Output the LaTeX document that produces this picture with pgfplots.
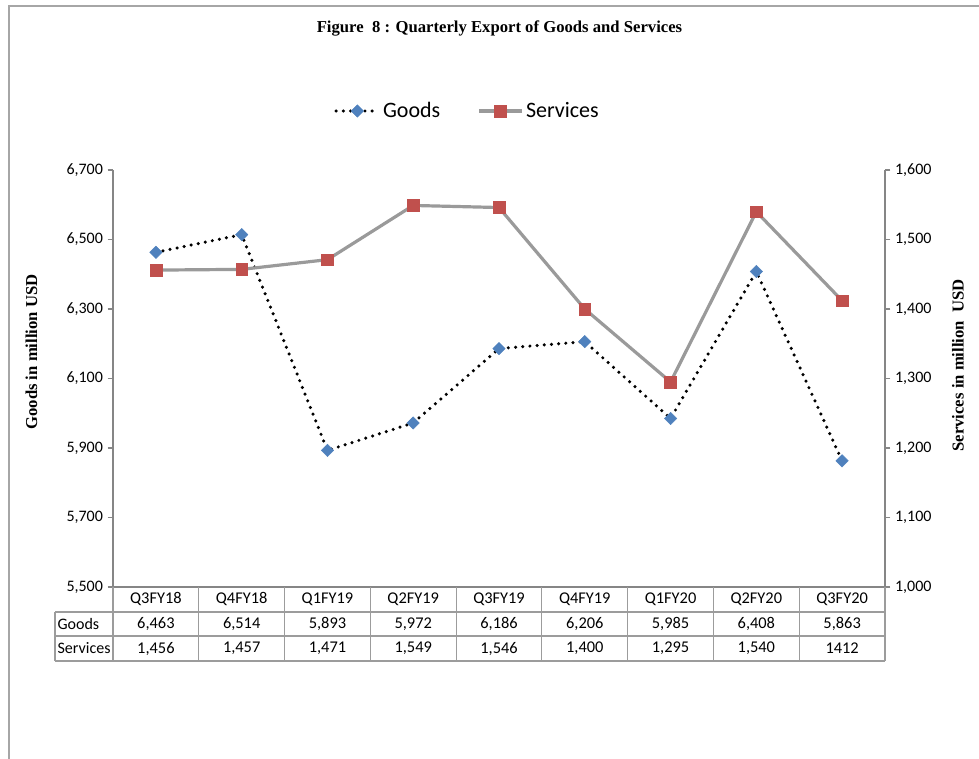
\documentclass[border=0pt]{standalone}
\usepackage{fontspec}
\setmainfont{Carlito}
\newfontfamily\timesfont{Liberation Serif}
\usepackage{pgfplots}
\pgfplotsset{compat=1.18}
\definecolor{goodsblue}{HTML}{4F81BD}
\definecolor{servred}{HTML}{C0504D}
\definecolor{axgray}{HTML}{868686}
\definecolor{framegray}{HTML}{A6A6A6}
\definecolor{servline}{HTML}{9A9A9A}
\definecolor{tabgray}{HTML}{9C9C9C}
\tikzset{
  goodsstyle/.style={black, line width=2.6pt, dash pattern=on 0pt off 5.4pt, line cap=round,
    mark=square*, mark size=3.3pt, mark options={rotate=45, solid, fill=goodsblue, draw=goodsblue, line width=0.3pt}},
  servstyle/.style={servline, line width=2.4pt,
    mark=square*, mark size=4.4pt, mark options={solid, fill=servred, draw=servred, line width=0.3pt}},
}
\pgfplotsset{
  myaxis/.style={
    at={(84.75pt,-440.25pt)}, anchor=south west,
    scale only axis, width=579pt, height=312.75pt,
    xmin=-0.5, xmax=8.5, xtick=\empty,
    axis line style={axgray, line width=0.8pt, -},
    tick style={axgray, line width=0.8pt},
    tick align=outside, major tick length=4pt,
    yticklabel style={font=\fontsize{12}{14}\selectfont, black},
    /pgf/number format/.cd, 1000 sep={,}, assume math mode=true,
  },
}
\begin{document}
\begin{tikzpicture}
\path[use as bounding box] (0,0) rectangle (734.25pt,-569.25pt);
\draw[framegray, line width=1.4pt] (6.75pt,-569.25pt) -- (6.75pt,-4.5pt) -- (734.25pt,-4.5pt);
\node[font=\timesfont\bfseries\fontsize{12.5}{14}\selectfont] at (374.6pt,-21.5pt) {Figure\ \ 8 : Quarterly Export of Goods and Services};

\begin{axis}[myaxis,
  ymin=5500, ymax=6700, ytick={5500,5700,...,6700},
  axis y line*=left, axis x line*=bottom,
]
\addplot[goodsstyle] coordinates {(0,6463) (1,6514) (2,5893) (3,5972) (4,6186) (5,6206) (6,5985) (7,6408) (8,5863)};
\end{axis}

\begin{axis}[myaxis,
  ymin=1000, ymax=1600, ytick={1000,1100,...,1600},
  axis y line*=right, axis x line=none,
  legend columns=2,
  legend style={draw=none, fill=none, at={(0.4598,1.1415)}, anchor=center,
    font=\fontsize{16.5}{19}\selectfont,
    /tikz/every even column/.append style={column sep=26pt}},
  legend image code/.code={\draw[mark repeat=2, mark phase=2, #1] plot coordinates {(0cm,0cm) (0.56cm,0cm) (1.12cm,0cm)};},
]
\addlegendimage{goodsstyle}
\addlegendentry{Goods}
\addplot[servstyle] coordinates {(0,1456) (1,1457) (2,1471) (3,1549) (4,1546) (5,1400) (6,1295) (7,1540) (8,1412)};
\addlegendentry{Services}
\end{axis}

% axis titles
\node[rotate=90, font=\timesfont\bfseries\fontsize{12.5}{14}\selectfont] at (23.6pt,-264pt) {Goods in million USD};
\node[rotate=90, font=\timesfont\bfseries\fontsize{12.5}{14}\selectfont] at (718.5pt,-274pt) {Services in million\ \ USD};

% data table
\foreach \i in {0,...,9} {
  \draw[tabgray, line width=0.8pt] ({(113+85.78*\i)*0.75pt},-440.25pt) -- ({(113+85.78*\i)*0.75pt},-495.75pt);
}
\draw[tabgray, line width=0.8pt] (41.25pt,-459pt) -- (41.25pt,-495.75pt);
\draw[tabgray, line width=0.8pt] (41.25pt,-459pt) -- (663.75pt,-459pt);
\draw[tabgray, line width=0.8pt] (41.25pt,-477pt) -- (663.75pt,-477pt);
\draw[tabgray, line width=0.8pt] (41.25pt,-495.75pt) -- (663.75pt,-495.75pt);
\foreach \lab [count=\i from 0] in {Q3FY18,Q4FY18,Q1FY19,Q2FY19,Q3FY19,Q4FY19,Q1FY20,Q2FY20,Q3FY20} {
  \node[font=\fontsize{12.3}{14}\selectfont] at ({(155.9+85.78*\i)*0.75pt},-449.6pt) {\lab};
}
\foreach \lab [count=\i from 0] in {6{,}463,6{,}514,5{,}893,5{,}972,6{,}186,6{,}206,5{,}985,6{,}408,5{,}863} {
  \node[font=\fontsize{12.3}{14}\selectfont] at ({(155.9+85.78*\i)*0.75pt},-468pt) {\lab};
}
\foreach \lab [count=\i from 0] in {1{,}456,1{,}457,1{,}471,1{,}549,1{,}546,1{,}400,1{,}295,1{,}540,1412} {
  \node[font=\fontsize{12.3}{14}\selectfont] at ({(155.9+85.78*\i)*0.75pt},-486.4pt) {\lab};
}
\node[font=\fontsize{12}{14}\selectfont, anchor=west, inner sep=0pt] at (43pt,-468pt) {Goods};
\node[font=\fontsize{12}{14}\selectfont, anchor=west, inner sep=0pt] at (43pt,-486.4pt) {Services};
\end{tikzpicture}
\end{document}
